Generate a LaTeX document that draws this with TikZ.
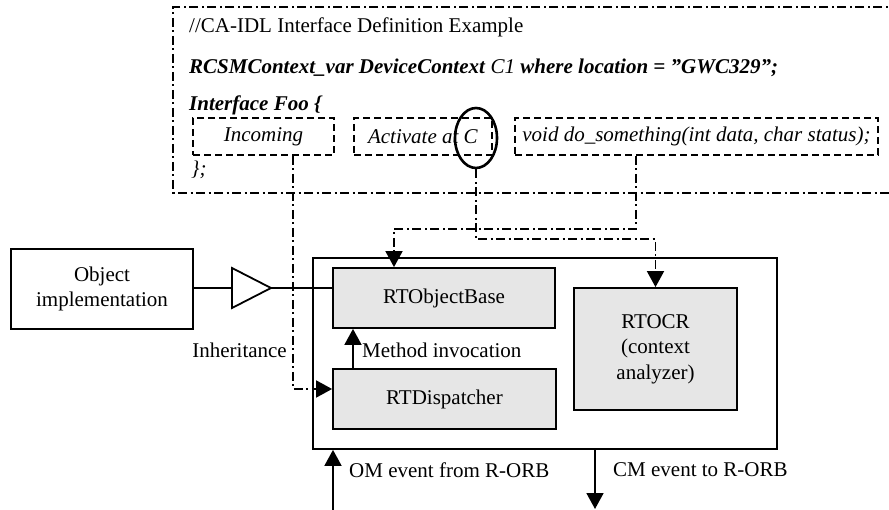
\documentclass[tikz,border=0pt]{standalone}
\usepackage{fontspec}
\setmainfont{Liberation Serif}
\usetikzlibrary{arrows.meta,shapes.geometric}
\definecolor{boxgray}{HTML}{E6E6E6}
\tikzset{
  lw/.style={line width=1.8pt},
  txt/.style={inner sep=0pt, font=\fontsize{21}{25}\selectfont},
  ddashed/.style={lw, dash pattern=on 7pt off 4pt},
  dashdotline/.style={lw, dash pattern=on 9pt off 3.5pt on 2pt off 3.5pt},
  dbox/.style={draw, ddashed, inner sep=0pt, minimum height=37pt, font=\fontsize{21}{25}\selectfont},
  wbox/.style={draw, lw, inner sep=0pt, align=center, font=\fontsize{21}{25}\selectfont},
  gbox/.style={draw, lw, fill=boxgray, inner sep=0pt, align=center, font=\fontsize{21}{25.5}\selectfont},
  arr/.style={-{Triangle[length=16pt,width=17pt]}}
}
\begin{document}
\begin{tikzpicture}[x=1pt,y=-1pt]
\useasboundingbox (0,0) rectangle (889,510);
% interface definition frame
\draw[dashdotline] (900,7) -- (173,7) -- (173,193) -- (900,193);
\node[txt, anchor=base west] (l1) at (189,33) {//CA-IDL Interface Definition Example};
\node[txt, anchor=base west] (l2) at (189,74) {\textbf{\textit{RCSMContext\_var DeviceContext}} \textit{C1} \textbf{\textit{where location = ”GWC329”;}}};
\node[txt, anchor=base west] (l3) at (189,111) {\textbf{\textit{Interface Foo \{}}};
\node[txt, anchor=base west] (l4) at (191,176) {\textit{\};}};
\node[dbox, minimum width=141pt] (inc) at (263.5,136.5) {\textit{Incoming}};
\node[dbox, minimum width=138pt] (act) at (423,136.5) {\textit{Activate at C}};
\node[dbox, minimum width=363pt] (void) at (696.5,136.5) {\textit{void do\_something(int data, char status);}};
\node[draw, ellipse, line width=2.6pt, minimum width=42pt, minimum height=60pt, inner sep=0pt] (sel) at (476,138) {};
% main blocks
\node[draw, lw, minimum width=464pt, minimum height=191pt] (outer) at (545,353.5) {};
\node[gbox, minimum width=222pt, minimum height=60pt] (rob) at (444,298) {RTObjectBase};
\node[gbox, minimum width=223pt, minimum height=60pt] (disp) at (444.5,399) {RTDispatcher};
\node[gbox, minimum width=163pt, minimum height=122pt] (ocr) at (655.5,349) {RTOCR\\(context\\analyzer)};
\node[wbox, minimum width=182pt, minimum height=80pt] (obj) at (102,289) {Object\\implementation};
% inheritance triangle
\coordinate (triL) at (232,288);
\coordinate (triR) at (271,288);
\draw[lw] (triR) -- ([yshift=20pt]triL) -- ([yshift=-20pt]triL) -- cycle;
\draw[lw] (obj.east |- triL) -- (triL);
\draw[lw] (triR) -- (rob.west |- triR);
% dash-dot connectors
\draw[dashdotline, arr] ([xshift=29.5pt]inc.south) |- ([yshift=10pt]disp.west);
\draw[dashdotline, arr] (sel.south) -- ++(0,70) coordinate (selturn) -- (selturn -| ocr.north) -- (ocr.north);
\draw[dashdotline, arr] ([xshift=-60.5pt]void.south) -- ++(0,73) -| ([xshift=-50pt]rob.north);
% method invocation
\coordinate (mx) at (353,0);
\draw[lw, arr] (disp.north -| mx) -- (rob.south -| mx);
% events
\coordinate (omS) at (333,510);
\draw[lw, arr] (omS) -- (omS |- outer.south);
\coordinate (cmE) at (595,509);
\draw[lw, arr] (cmE |- outer.south) -- (cmE);
% labels
\node[txt, anchor=east] (inh) at (287,350) {Inheritance};
\node[txt, anchor=west] (mi) at (362,350) {Method invocation};
\node[txt, anchor=west] (om) at (349,470) {OM event from R-ORB};
\node[txt, anchor=west] (cm) at (613,470) {CM event to R-ORB};
\end{tikzpicture}
\end{document}
